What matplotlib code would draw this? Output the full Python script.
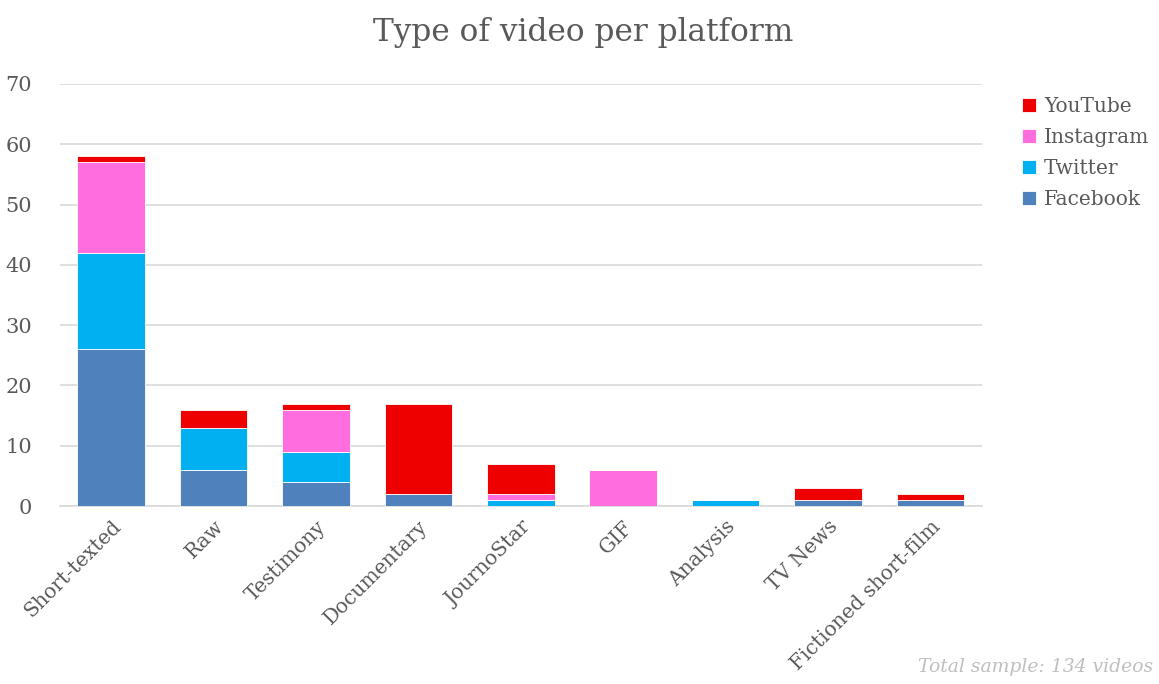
import numpy as np
import matplotlib.pyplot as plt

categories = ["Short-texted", "Raw", "Testimony", "Documentary", "JournoStar",
              "GIF", "Analysis", "TV News", "Fictioned short-film"]
facebook = [26, 6, 4, 2, 0, 0, 0, 1, 1]
twitter = [16, 7, 5, 0, 1, 0, 1, 0, 0]
instagram = [15, 0, 7, 0, 1, 6, 0, 0, 0]
youtube = [1, 3, 1, 15, 5, 0, 0, 2, 1]

series = [("Facebook", facebook, "#4f81bd"),
          ("Twitter", twitter, "#00b0f0"),
          ("Instagram", instagram, "#ff6ddf"),
          ("YouTube", youtube, "#ee0000")]

txt = "#595959"
plt.rcParams["font.family"] = ["DejaVu Serif"]

fig = plt.figure(figsize=(11.59, 6.84), dpi=100)
ax = fig.add_axes([0.0518, 0.2602, 0.7952, 0.6170])

x = np.arange(len(categories))
bottom = np.zeros(len(categories))
handles = []
for name, vals, col in series:
    vals = np.array(vals, dtype=float)
    b = ax.bar(x, vals, 0.66, bottom=bottom, color=col, label=name,
               edgecolor="white", linewidth=0.6, zorder=3)
    handles.append(b)
    bottom += vals

ax.set_xlim(-0.5, len(categories) - 0.5)
ax.set_ylim(0, 70)
ax.set_yticks(range(0, 71, 10))
ax.yaxis.grid(True, color="#d9d9d9", linewidth=1.2, zorder=0)
ax.set_axisbelow(True)
for s in ["top", "right", "left"]:
    ax.spines[s].set_visible(False)
ax.spines["bottom"].set_color("#d9d9d9")
ax.spines["bottom"].set_linewidth(1.2)
ax.tick_params(length=0, colors=txt)
ax.tick_params(axis="y", labelsize=15, pad=20)
ax.set_xticks(x)
ax.set_xticklabels(categories, rotation=45, ha="right", rotation_mode="anchor")
ax.tick_params(axis="x", labelsize=14.5, pad=8)

fig.text(0.503, 0.953, "Type of video per platform", ha="center", va="center",
         fontsize=22.5, color=txt)

leg = fig.legend(handles[::-1], [h.get_label() for h in handles[::-1]],
                 loc="upper left", bbox_to_anchor=(0.866, 0.885), frameon=False,
                 fontsize=14.5, handlelength=0.7, handleheight=0.7,
                 handletextpad=0.4, labelspacing=0.6, labelcolor=txt)

fig.text(0.995, 0.012, "Total sample: 134 videos", ha="right", va="bottom",
         fontsize=13.5, color="#bfbfbf", style="italic")

fig.savefig("out.png", dpi=100)
